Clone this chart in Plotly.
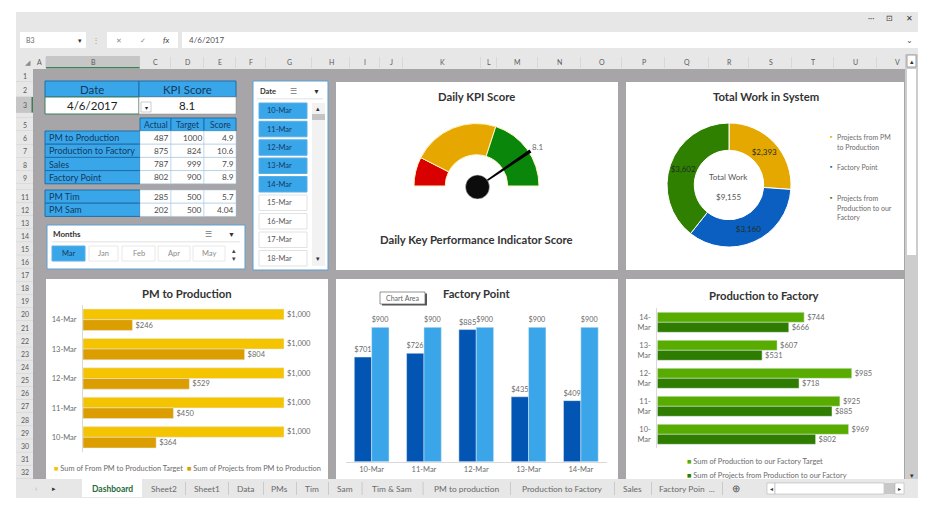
"""
Excel KPI dashboard screenshot rebuilt with plotly
"""

import math
import plotly.graph_objects as go

W = 932
H = 514
FONT = "Lato"
TXT = "#404040"
GRAY_TXT = "#6b6b6b"
SHEET_CLR = "#a7a5a7"
BAR_CLR = "#e7e7e7"
BLUE_CLR = "#3aa6ea"
BORDER_CLR = "#1d6ea8"
NAVY_TXT = "#123a5e"
TITLE_SIZE = 11.3

# KPI block
date_value = "4/6/2017"
kpi_score = 8.1
table_columns = ["Actual", "Target", "Score"]
table_rows = ["PM to Production", "Production to Factory", "Sales", "Factory Point"]
table_actual = [487, 875, 787, 802]
table_target = [1000, 824, 999, 900]
table_score = ["4.9", "10.6", "7.9", "8.9"]
people_rows = ["PM Tim", "PM Sam"]
people_actual = [285, 202]
people_target = [500, 500]
people_score = ["5.7", "4.04"]

# slicers
date_items = ["10-Mar", "11-Mar", "12-Mar", "13-Mar", "14-Mar", "15-Mar", "16-Mar", "17-Mar", "18-Mar"]
date_selected = 5
month_items = ["Mar", "Jan", "Feb", "Apr", "May"]

# gauge
gauge_bands = [1.5, 4.5, 4.0, 10.0]
gauge_colors = ["#d90000", "#e6a700", "#0a870a", "rgba(0,0,0,0)"]
gauge_edges = ["#fff6c0", "#fff6c0", "#fff6c0", "rgba(0,0,0,0)"]

# donut
work_labels = ["Projects from PM to Production", "Factory Point", "Projects from Production to our Factory"]
work_values = [2393, 3160, 3602]
work_colors = ["#e5a800", "#0a5fc0", "#2f8000"]

# bar charts
days = ["10-Mar", "11-Mar", "12-Mar", "13-Mar", "14-Mar"]
pm_target = [1000, 1000, 1000, 1000, 1000]
pm_actual = [364, 450, 529, 804, 246]
factory_actual = [701, 726, 885, 435, 409]
factory_target = [900, 900, 900, 900, 900]
prod_target = [969, 925, 985, 607, 744]
prod_actual = [802, 885, 718, 531, 666]

# sheet headers
col_names = list("ABCDEFGHIJKLMNOPQRSTUV")
col_edges = [33, 46, 140, 171, 204, 236, 266, 312, 350, 380, 403, 481, 497, 538, 581, 622, 665, 709, 749, 792, 834, 877, 917]
row_heights = [13, 15, 16, 5, 13, 13.5, 13.5, 13, 13, 6, 13, 13, 13] + [13.14] * 19
tab_names = ["Sheet2", "Sheet1", "Data", "PMs", "Tim", "Sam", "Tim & Sam", "PM to production", "Production to Factory", "Sales", "Factory Poin  ..."]
tab_edges = [142, 185, 228, 263, 296, 328, 361.7, 422.7, 510, 614, 651, 722]

shapes = []
annotations = []


def px(x):
    return x / W


def py(y):
    return 1 - y / H


def rect(x0, y0, x1, y1, fill, line=None, width=1):
    shapes.append(
        dict(
            type="rect",
            xref="paper",
            yref="paper",
            x0=px(x0),
            x1=px(x1),
            y0=py(y0),
            y1=py(y1),
            fillcolor=fill,
            line=dict(color=line or fill, width=width if line else 0),
            layer="below",
        )
    )


def txt(x, y, text, size=8, color=TXT, anchor="center", bold=False):
    annotations.append(
        dict(
            xref="paper",
            yref="paper",
            x=px(x),
            y=py(y),
            text=f"<b>{text}</b>" if bold else text,
            showarrow=False,
            xanchor=anchor,
            yanchor="middle",
            borderpad=0,
            font=dict(family=FONT, size=size, color=color),
        )
    )


def legend_text(x, y, text, color, size=7.4):
    txt(x, y, f'<span style="color:{color}">■</span> {text}', size=size, color=GRAY_TXT, anchor="left")


def draw_window():
    rect(16, 12, 918, 498, BAR_CLR)
    rect(33, 69, 905, 479, SHEET_CLR)
    # formula bar
    rect(20, 32, 86, 48, "#ffffff")
    rect(107, 32, 178, 48, "#ffffff")
    rect(182, 32, 918, 48, "#ffffff")
    txt(25, 40, "B3", 7, GRAY_TXT, "left")
    txt(80, 40, "▾", 7, "#333333")
    txt(96, 40, "⋮", 8, "#9a9a9a")
    txt(119, 40, "✕", 7, "#8a8a8a")
    txt(143, 40, "✓", 7, "#8a8a8a")
    txt(166, 40, "<i>fx</i>", 8, "#444444")
    txt(188, 40, date_value, 8, "#555555", "left")
    txt(909, 40, "⌄", 8, "#555555")
    txt(871, 18, "···", 8, "#444444")
    txt(889, 18, "⊡", 8, "#444444")
    txt(909, 18, "✕", 8, "#333333")
    # column headers
    rect(46, 56, 140, 68, "#c6c6c6")
    rect(46, 67, 140, 68.5, "#3f7d55")
    for i, name in enumerate(col_names):
        txt((col_edges[i] + col_edges[i + 1]) / 2, 62, name, 7, "#5a5a5a")
        rect(col_edges[i + 1] - 0.5, 57, col_edges[i + 1], 68, "#c9c9c9")
    txt(28, 62, "◢", 7, "#8a8a8a")
    # row headers
    y = 69
    for i, height in enumerate(row_heights):
        if i == 2:
            rect(16, y, 33, y + height, "#c6c6c6")
            rect(31.5, y, 33, y + height, "#3f7d55")
        if height > 6:
            txt(24.5, y + height / 2, str(i + 1), 7, "#5a5a5a")
        rect(16, y + height - 0.5, 33, y + height, "#cfcfcf")
        y += height
    rect(16, 479, 918, 498, BAR_CLR)
    # vertical scrollbar
    rect(905, 54, 918, 479, "#cdcdcd")
    rect(907, 69, 916, 255, "#ffffff")
    rect(907, 55, 916, 67, "#ffffff", "#a0a0a0")
    txt(911.5, 61, "▴", 7, "#333333")
    txt(911.5, 475, "▾", 7, "#333333")


def draw_tabs():
    txt(36, 488, "‹", 8, "#aaaaaa")
    txt(54, 488, "▸", 7, "#333333")
    rect(82, 479, 142, 497, "#ffffff")
    txt(112, 488.5, "Dashboard", 8.5, "#1f6b3a", bold=True)
    for i, name in enumerate(tab_names):
        txt((tab_edges[i] + tab_edges[i + 1]) / 2, 488.5, name, 8.4, "#6a6a6a")
        rect(tab_edges[i + 1], 482, tab_edges[i + 1] + 0.7, 495, "#bdbdbd")
    txt(736, 488, "⊕", 10, "#555555")
    rect(767, 483, 775, 494, "#ffffff", "#a5a5a5", 0.5)
    rect(775, 483, 884, 494, "#ffffff", "#a5a5a5", 0.5)
    rect(884, 483, 895, 494, "#c8c8c8")
    rect(895, 483, 904, 494, "#ffffff", "#a5a5a5", 0.5)
    txt(771, 488.5, "◂", 6, "#333333")
    txt(899.5, 488.5, "▸", 6, "#333333")


def draw_table():
    rect(45, 81, 139, 97, BLUE_CLR, BORDER_CLR)
    rect(139, 81, 236, 97, BLUE_CLR, BORDER_CLR)
    rect(45, 97, 139, 114, "#ffffff", "#3e7d5a")
    rect(139, 97, 236, 114, "#ffffff", "#888888", 0.5)
    txt(92, 89.5, "Date", 11.5, NAVY_TXT)
    txt(187, 89.5, "KPI Score", 11.5, NAVY_TXT)
    txt(92, 105.5, date_value, 11.5, "#222222")
    txt(187, 105.5, str(kpi_score), 11.5, "#222222")
    rect(141, 102, 151, 112, "#ffffff", "#999999", 0.5)
    txt(146, 107, "▾", 6, "#222222")
    col_x = [140, 171, 204, 236]
    for j, name in enumerate(table_columns):
        rect(col_x[j], 118, col_x[j + 1], 131, BLUE_CLR, BORDER_CLR)
        txt((col_x[j] + col_x[j + 1]) / 2, 124.5, name, 8.5, NAVY_TXT)

    def body(labels, actual, target, score, y0):
        for i, label in enumerate(labels):
            y = y0 + i * 13.2
            rect(45, y, 140, y + 13.2, BLUE_CLR, BORDER_CLR)
            txt(48, y + 6.6, label, 9, NAVY_TXT, "left")
            for j, value in enumerate([actual[i], target[i], score[i]]):
                rect(col_x[j], y, col_x[j + 1], y + 13.2, "#ffffff", "#9fc4dc", 0.5)
                txt(col_x[j + 1] - 1.5, y + 6.6, str(value), 8.3, "#4a4a4a", "right")

    body(table_rows, table_actual, table_target, table_score, 131)
    body(people_rows, people_actual, people_target, people_score, 190)


def draw_slicers():
    rect(253, 81, 328, 270, "#ffffff", "#5b9fd0")
    txt(259, 91, "Date", 7.5, "#333333", "left", True)
    txt(293, 91, "☰", 8, "#777777")
    txt(316, 91, "▼", 7, "#333333")
    rect(257, 98.5, 323, 99.2, "#d8d8d8")
    y_tops = [103, 121.3, 139.8, 158, 176.5, 195, 213.5, 232, 250.5]
    for i, name in enumerate(date_items):
        on = i < date_selected
        rect(259, y_tops[i], 307, y_tops[i] + 15.5, BLUE_CLR if on else "#ffffff", "#5aaee6" if on else "#e2e2e2")
        txt(266, y_tops[i] + 7.8, name, 7.5, NAVY_TXT if on else "#555555", "left")
    rect(312, 103, 325, 266, "#f2f2f2")
    rect(312, 114, 325, 120, "#c4c4c4")
    txt(318, 107.5, "▴", 7, "#333333")
    txt(318, 257.5, "▾", 7, "#333333")

    rect(47, 225, 245, 269, "#ffffff", "#5b9fd0")
    txt(52, 234, "Months", 8, "#333333", "left", True)
    txt(208, 234, "☰", 8, "#777777")
    txt(231, 234, "▼", 7, "#333333")
    rect(52, 241.5, 240, 242.2, "#d8d8d8")
    x_edges = [(52, 85), (89, 118), (122, 155), (158, 190), (193, 225)]
    for i, name in enumerate(month_items):
        on = i == 0
        x0, x1 = x_edges[i]
        rect(x0, 246, x1, 261, BLUE_CLR if on else "#ffffff", "#5aaee6" if on else "#e8e8e8")
        txt((x0 + x1) / 2, 253.5, name, 7.5, NAVY_TXT if on else "#8a8a8a")
    txt(234, 250, "▴", 7, "#444444")
    txt(234, 258, "▾", 7, "#444444")


def draw_panels():
    for x0, x1 in [(336, 618), (626, 904)]:
        rect(x0, 82, x1, 270, "#ffffff")
    for x0, x1 in [(46, 328), (336, 618), (626, 904)]:
        rect(x0, 279, x1, 479, "#ffffff")
    txt(476, 96.5, "Daily KPI Score", TITLE_SIZE, "#333333", bold=True)
    txt(476, 239, "Daily Key Performance Indicator Score", TITLE_SIZE, "#333333", bold=True)
    txt(766, 96, "Total Work in System", TITLE_SIZE, "#333333", bold=True)
    txt(187, 293.5, "PM to Production", TITLE_SIZE, "#333333", bold=True)
    txt(476, 293.5, "Factory Point", TITLE_SIZE, "#333333", bold=True)
    txt(764, 295, "Production to Factory", TITLE_SIZE, "#333333", bold=True)
    # selected chart tooltip
    rect(382, 293.5, 427, 305.5, "#555555")
    rect(380, 292, 425, 304, "#ffffff", "#666666", 0.7)
    txt(402.5, 298, "Chart Area", 7, "#666666")


def add_gauge(fig):
    cx, cy, radius = 476.5, 186, 62.5
    fig.add_trace(
        go.Pie(
            values=gauge_bands,
            marker=dict(colors=gauge_colors, line=dict(color=gauge_edges, width=1)),
            hole=0.5,
            rotation=270,
            direction="clockwise",
            sort=False,
            textinfo="none",
            hoverinfo="skip",
            showlegend=False,
            domain=dict(x=[px(cx - radius), px(cx + radius)], y=[py(cy + radius), py(cy - radius)]),
        )
    )
    # needle angle follows the score on the 0-10 scale
    hub_x, hub_y = 477.5, 187
    angle = math.pi * (1 - kpi_score / 10)
    dx, dy = math.cos(angle), -math.sin(angle)
    nx, ny = -dy, dx
    tip_x, tip_y = hub_x + 64 * dx, hub_y + 64 * dy
    points = [
        (hub_x + 0.6 * nx, hub_y + 0.6 * ny),
        (tip_x + 1.7 * nx, tip_y + 1.7 * ny),
        (tip_x - 1.7 * nx, tip_y - 1.7 * ny),
        (hub_x - 0.6 * nx, hub_y - 0.6 * ny),
    ]
    path = "M " + " L ".join(f"{px(a):.5f} {py(b):.5f}" for a, b in points) + " Z"
    shapes.append(dict(type="path", xref="paper", yref="paper", path=path, fillcolor="#000000", line=dict(width=0), layer="above"))
    shapes.append(
        dict(
            type="circle",
            xref="paper",
            yref="paper",
            x0=px(hub_x - 12),
            x1=px(hub_x + 12),
            y0=py(hub_y + 12),
            y1=py(hub_y - 12),
            fillcolor="#0c0c0c",
            line=dict(color="#d8d8d8", width=0.5),
            layer="above",
        )
    )
    txt(538, 146.5, str(kpi_score), 8, GRAY_TXT)


def add_donut(fig):
    cx, cy, radius = 729, 185, 62
    fig.add_trace(
        go.Pie(
            labels=work_labels,
            values=work_values,
            marker=dict(colors=work_colors, line=dict(color="#ffffff", width=1)),
            hole=0.56,
            rotation=0,
            direction="clockwise",
            sort=False,
            texttemplate="$%{value:,.0f}",
            textposition="inside",
            insidetextorientation="horizontal",
            textfont=dict(family=FONT, size=8, color="#1f2f1f"),
            hoverinfo="label+value",
            showlegend=False,
            domain=dict(x=[px(cx - radius), px(cx + radius)], y=[py(cy + radius), py(cy - radius)]),
        )
    )
    txt(728, 177, "Total Work", 8, "#555555")
    txt(728, 197, f"${sum(work_values):,}", 8, "#555555")
    legend_lines = [
        (137, "Projects from PM", 0),
        (147, "to Production", None),
        (167.5, "Factory Point", 1),
        (198, "Projects from", 2),
        (208, "Production to our", None),
        (217, "Factory", None),
    ]
    for y, line, color_idx in legend_lines:
        txt(835.5, y, line, 7, GRAY_TXT, "left")
        if color_idx is not None:
            txt(831, y, "■", 3.5, work_colors[color_idx])


def add_hbars(fig, name, values_top, values_bottom, colors, x_span, y_span, width, scale, labels):
    """
    가로 막대 차트 공통함수, 위쪽 막대가 Target
    """
    x_axis, y_axis = f"x{name}", f"y{name}"
    fig.add_trace(
        go.Bar(
            y=days,
            x=values_top,
            orientation="h",
            width=width,
            offset=0,
            marker_color=colors[0],
            text=[f"${v:,}" for v in values_top],
            textposition="outside",
            cliponaxis=False,
            textfont=dict(family=FONT, size=7.5, color=GRAY_TXT),
            xaxis=x_axis,
            yaxis=y_axis,
            showlegend=False,
        )
    )
    fig.add_trace(
        go.Bar(
            y=days,
            x=values_bottom,
            orientation="h",
            width=width,
            offset=-width,
            marker_color=colors[1],
            text=[f"${v:,}" for v in values_bottom],
            textposition="outside",
            cliponaxis=False,
            textfont=dict(family=FONT, size=7.5, color=GRAY_TXT),
            xaxis=x_axis,
            yaxis=y_axis,
            showlegend=False,
        )
    )
    fig.update_layout(
        {
            f"xaxis{name}": dict(
                domain=[px(x_span[0]), px(x_span[1])],
                range=[0, scale],
                visible=False,
                anchor=y_axis,
                fixedrange=True,
            ),
            f"yaxis{name}": dict(
                domain=[py(y_span[1]), py(y_span[0])],
                type="category",
                categoryorder="array",
                categoryarray=days,
                tickvals=days,
                ticktext=labels,
                anchor=x_axis,
                showline=True,
                linecolor="#d9d9d9",
                linewidth=1,
                showgrid=False,
                ticks="",
                ticklabelstandoff=4,
                tickfont=dict(family=FONT, size=7.5, color=GRAY_TXT),
                fixedrange=True,
            ),
        }
    )


def add_columns(fig):
    width = 0.332
    for values, color, offset in [(factory_actual, "#0355b3", -width), (factory_target, "#3aa5e8", 0)]:
        fig.add_trace(
            go.Bar(
                x=days,
                y=values,
                width=width,
                offset=offset,
                marker_color=color,
                text=[f"${v:,}" for v in values],
                textposition="outside",
                cliponaxis=False,
                textfont=dict(family=FONT, size=7.5, color=GRAY_TXT),
                xaxis="x3",
                yaxis="y3",
                showlegend=False,
            )
        )
    fig.update_layout(
        xaxis3=dict(
            domain=[px(345.5), px(607)],
            type="category",
            categoryorder="array",
            categoryarray=days,
            anchor="y3",
            showline=True,
            linecolor="#d9d9d9",
            ticks="",
            tickfont=dict(family=FONT, size=7.5, color=GRAY_TXT),
            fixedrange=True,
        ),
        yaxis3=dict(
            domain=[py(461.7), py(312.4)],
            range=[0, 1000],
            visible=False,
            anchor="x3",
            fixedrange=True,
        ),
    )


def main():
    draw_window()
    draw_tabs()
    draw_table()
    draw_slicers()
    draw_panels()

    fig = go.Figure()
    add_gauge(fig)
    add_donut(fig)
    add_hbars(fig, 1, pm_target, pm_actual, ["#f5c400", "#dc9d00"], (83, 284), (305, 452), 0.364, 1000, days)
    legend_text(53, 468, "Sum of From PM to Production Target", "#f5c400")
    legend_text(186, 468, "Sum of Projects from PM to Production", "#dc9d00")
    two_line_days = [d.replace("-", "-<br>") for d in days]
    add_hbars(fig, 2, prod_target, prod_actual, ["#58ac00", "#2f7d00"], (657.3, 854.7), (308.3, 448.3), 0.357, 1000, two_line_days)
    legend_text(686, 461, "Sum of Production to our Factory Target", "#58ac00")
    legend_text(686, 475, "Sum of Projects from Production to our Factory", "#2f7d00")
    add_columns(fig)

    fig.update_layout(
        width=W,
        height=H,
        margin=dict(t=0, b=0, l=0, r=0),
        autosize=False,
        paper_bgcolor="#ffffff",
        plot_bgcolor="rgba(0,0,0,0)",
        barmode="group",
        font=dict(family=FONT),
        showlegend=False,
        shapes=shapes,
        annotations=annotations,
    )
    fig.write_html(
        "out.html",
        config=dict(displayModeBar=False),
        post_script="document.body.style.margin='0';document.documentElement.style.overflow='hidden';",
    )


if __name__ == "__main__":
    main()
